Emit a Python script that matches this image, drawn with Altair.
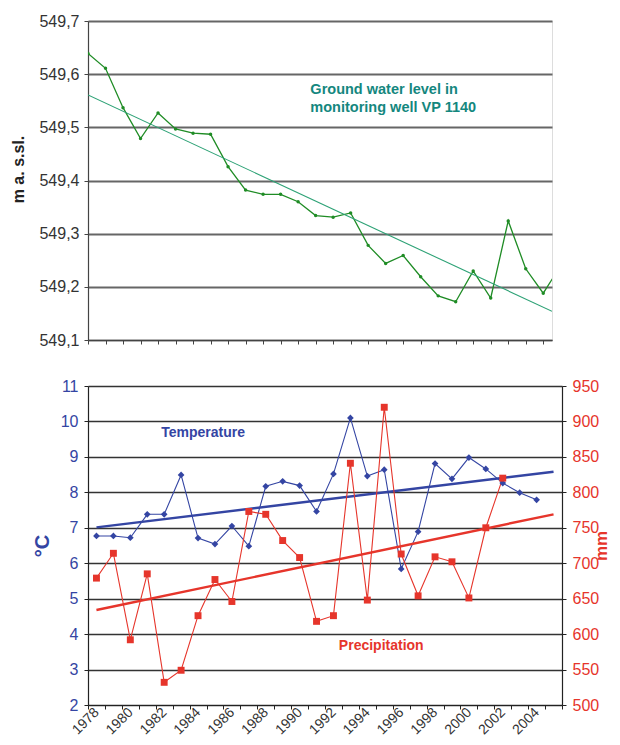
import altair as alt
import pandas as pd

FONT = "Liberation Sans"

# ---- data ----
years = list(range(1978, 2006))  # 28 years
gw_level = [549.639, 549.611, 549.537, 549.479, 549.527, 549.497, 549.489, 549.487,
            549.426, 549.382, 549.374, 549.374, 549.360, 549.334, 549.331, 549.339,
            549.278, 549.244, 549.259, 549.219, 549.183, 549.172, 549.230, 549.179,
            549.324, 549.234, 549.188, 549.240]
gw_trend_years = [1978, 2004.5]
gw_trend_level = [549.561, 549.154]

temp_years = list(range(1978, 2005))
temp = [6.77, 6.77, 6.72, 7.38, 7.38, 8.49, 6.71, 6.54, 7.05, 6.48, 8.17, 8.31, 8.19,
        7.46, 8.52, 10.10, 8.46, 8.64, 5.84, 6.89, 8.81, 8.38, 8.98, 8.66, 8.26, 7.99, 7.79]
precip_years = list(range(1978, 2003))
precip = [679, 714, 592, 685, 532, 549, 626, 677, 646, 773, 769, 732, 708, 618, 626,
          841, 648, 920, 713, 654, 709, 702, 651, 750, 820]
temp_trend_years = [1978, 2005]
temp_trend = [7.01, 8.58]
precip_trend_years = [1978, 2005]
precip_trend = [634, 769]

gw_note = ["Ground water level in", "monitoring well VP 1140"]
gw_note_year = [1990.7, 1990.7]
gw_note_level = [549.571, 549.537]

GREEN = "#1f8c25"
TREND_GREEN = "#2ea276"
TEAL = "#14877e"
BLUE = "#3445a3"
RED = "#e6352b"

# ---- top panel ----
gw_df = pd.DataFrame({"Year": years, "Level": gw_level})
gw_tr = pd.DataFrame({"Year": gw_trend_years, "Level": gw_trend_level})
note_df = pd.DataFrame({"Year": gw_note_year, "Level": gw_note_level, "t": gw_note})

xs_top = alt.Scale(domain=[1978, 2004.5], nice=False, zero=False)
ys_top = alt.Scale(domain=[549.1, 549.7], nice=False, zero=False)

top_x_axis = alt.Axis(values=years[:27], labels=False, title=None, grid=False, ticks=True,
                      tickSize=4, tickColor="#444", domainColor="#444", domainWidth=1.2)
top_y_axis = alt.Axis(values=[549.1, 549.2, 549.3, 549.4, 549.5, 549.6, 549.7],
                      labelExpr="replace(format(datum.value, '.1f'), '.', ',')",
                      title="m a. s.sl.", titleFontSize=16, titleFontWeight="bold",
                      titleColor="#222", titlePadding=12, titleY=148,
                      labelFontSize=16, labelColor="#333", labelPadding=5,
                      tickSize=4, tickColor="#444", domainColor="#444", domainWidth=1.2,
                      grid=True, gridColor="#666", gridWidth=2)

XT = alt.X("Year:Q", scale=xs_top, axis=top_x_axis)
YT = alt.Y("Level:Q", scale=ys_top, axis=top_y_axis)

gw_line = alt.Chart(gw_df).mark_line(color=GREEN, strokeWidth=1.3, clip=True,
                                     point=alt.OverlayMarkDef(color=GREEN, size=12, filled=True)).encode(
    x=XT, y=YT)
gw_trend_line = alt.Chart(gw_tr).mark_line(color=TREND_GREEN, strokeWidth=1.1, clip=True).encode(
    x=XT, y=YT)
gw_text = alt.Chart(note_df).mark_text(align="left", baseline="middle", fontSize=14.5,
                                       fontWeight="bold", color=TEAL, font=FONT).encode(
    x=XT, y=YT, text="t:N")

top = alt.layer(gw_line, gw_trend_line, gw_text).properties(width=464, height=319)

# ---- bottom panel ----
t_df = pd.DataFrame({"Year": temp_years, "Temp": temp})
p_df = pd.DataFrame({"Year": precip_years, "Precip": precip})
tt_df = pd.DataFrame({"Year": temp_trend_years, "Temp": temp_trend})
pt_df = pd.DataFrame({"Year": precip_trend_years, "Precip": precip_trend})
t_lab = pd.DataFrame({"Year": [1984], "Temp": [9.66], "t": ["Temperature"]})
p_lab = pd.DataFrame({"Year": [1995], "Precip": [583.6], "t": ["Precipitation"]})

xs_b = alt.Scale(domain=years, paddingInner=0, paddingOuter=0)
ts = alt.Scale(domain=[2, 11], nice=False, zero=False)
ps = alt.Scale(domain=[500, 950], nice=False, zero=False)

x_axis_b = alt.Axis(title=None, labelExpr="datum.value % 2 == 0 ? datum.label : ''",
                    labelAngle=-45, labelAlign="right", labelBaseline="middle",
                    labelOverlap=False, labelFontSize=14, labelColor="#333", labelPadding=1,
                    tickBand="extent", tickSize=4, tickColor="#222", domainColor="#222",
                    domainWidth=1.2, grid=False)
t_axis = alt.Axis(values=list(range(2, 12)), title="°C", titleColor=BLUE, titleFontSize=20,
                  titleFontWeight="bold", titlePadding=8, labelColor=BLUE, labelFontSize=16,
                  labelPadding=6, tickSize=4, tickColor="#222", domainColor="#222",
                  domainWidth=1.2, grid=True, gridColor="#333", gridWidth=1.3)
p_axis = alt.Axis(orient="right", values=list(range(500, 1000, 50)), title="mm",
                  titleColor=RED, titleFontSize=17, titleFontWeight="bold", titlePadding=12,
                  titleAngle=270, labelColor=RED, labelFontSize=16, labelPadding=6,
                  tickSize=4, tickColor="#222", domainColor="#222", domainWidth=1.2, grid=False)

X = alt.X("Year:O", scale=xs_b, axis=x_axis_b)

t_line = alt.Chart(t_df).mark_line(color=BLUE, strokeWidth=1.1).encode(
    x=X, y=alt.Y("Temp:Q", scale=ts, axis=t_axis))
t_pts = alt.Chart(t_df).mark_point(shape="diamond", filled=True, color=BLUE, size=45, opacity=1).encode(
    x=X, y=alt.Y("Temp:Q", scale=ts, axis=None))
t_tr = alt.Chart(tt_df).mark_line(color=BLUE, strokeWidth=2.4).encode(
    x=X, y=alt.Y("Temp:Q", scale=ts, axis=None))
t_txt = alt.Chart(t_lab).mark_text(fontSize=14, fontWeight="bold", color=BLUE, font=FONT, dx=5).encode(
    x=X, y=alt.Y("Temp:Q", scale=ts, axis=None), text="t:N")

p_line = alt.Chart(p_df).mark_line(color=RED, strokeWidth=1.1).encode(
    x=X, y=alt.Y("Precip:Q", scale=ps, axis=p_axis))
p_pts = alt.Chart(p_df).mark_point(shape="square", filled=True, color=RED, size=48, opacity=1).encode(
    x=X, y=alt.Y("Precip:Q", scale=ps, axis=None))
p_tr = alt.Chart(pt_df).mark_line(color=RED, strokeWidth=2.4).encode(
    x=X, y=alt.Y("Precip:Q", scale=ps, axis=None))
p_txt = alt.Chart(p_lab).mark_text(fontSize=14, fontWeight="bold", color=RED, font=FONT, dx=-3).encode(
    x=X, y=alt.Y("Precip:Q", scale=ps, axis=None), text="t:N")

bottom = alt.layer(t_line, t_tr, p_line, p_tr, t_pts, p_pts, t_txt, p_txt).resolve_scale(
    y="independent").properties(width=474, height=319)

chart = alt.vconcat(top, bottom, spacing=46, bounds="flush").properties(
    padding={"left": 2, "top": 4, "right": 0, "bottom": 0}
).configure_view(stroke=None).configure_axis(
    labelFont=FONT, titleFont=FONT
).configure(background="white")

chart.save("out.html", embed_options={"renderer": "svg", "actions": False})
